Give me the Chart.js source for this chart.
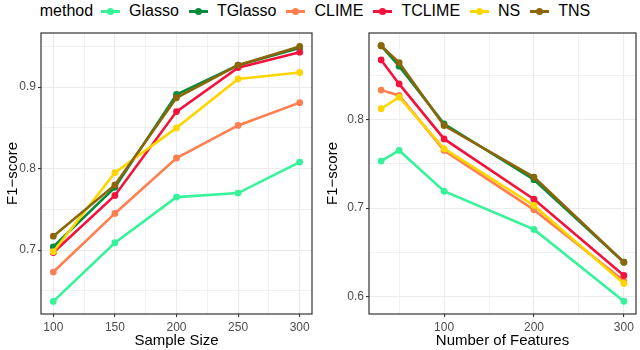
<!DOCTYPE html>
<html>
<head>
<meta charset="utf-8">
<script src="https://cdn.jsdelivr.net/npm/chart.js@4.4.0/dist/chart.umd.min.js"></script>
<style>
    body { margin: 0; background: #fff; width: 640px; height: 350px; position: relative; overflow: hidden; font-family: "Liberation Sans", Arial, sans-serif; }
    #legend { position: absolute; left: 0; top: 0; width: 640px; height: 22px; display: flex; justify-content: center; align-items: center; font-size: 16px; color: #000; }
    #legend .sym { position: relative; width: 19px; height: 3px; margin-right: 9px; }
    #legend .sym i { position: absolute; left: 6px; top: -2px; width: 7px; height: 7px; border-radius: 50%; }
    #legend .lab { margin-right: 10px; }
    .panel { position: absolute; top: 22px; width: 320px; height: 328px; }
</style>
</head>
<body>
<div id="legend"><span class="lab" style="margin-right:8px">method</span></div>
<div class="panel" style="left:0"><canvas id="leftChart" width="320" height="328"></canvas></div>
<div class="panel" style="left:320px"><canvas id="rightChart" width="320" height="328"></canvas></div>
<script>
// methods and colours
const methods = ['Glasso', 'TGlasso', 'CLIME', 'TCLIME', 'NS', 'TNS'];
const colors = ['#36F39A', '#0A8B3C', '#FF7F50', '#F4123C', '#FFD500', '#8B6508'];

// left panel: F1 vs sample size
const sampleSizes = [100, 150, 200, 250, 300];
const sizeGlasso  = [0.637, 0.709, 0.765, 0.770, 0.808];
const sizeTGlasso = [0.704, 0.777, 0.891, 0.927, 0.948];
const sizeCLIME   = [0.673, 0.745, 0.813, 0.853, 0.881];
const sizeTCLIME  = [0.697, 0.767, 0.870, 0.924, 0.943];
const sizeNS      = [0.698, 0.795, 0.850, 0.910, 0.918];
const sizeTNS     = [0.717, 0.780, 0.887, 0.927, 0.950];

// right panel: F1 vs number of features
const featureCounts = [30, 50, 100, 200, 300];
const featGlasso  = [0.753, 0.765, 0.719, 0.676, 0.595];
const featTGlasso = [0.883, 0.860, 0.795, 0.732, 0.639];
const featCLIME   = [0.833, 0.827, 0.765, 0.698, 0.618];
const featTCLIME  = [0.867, 0.840, 0.778, 0.710, 0.624];
const featNS      = [0.812, 0.825, 0.767, 0.703, 0.615];
const featTNS     = [0.883, 0.864, 0.793, 0.735, 0.639];

// grid values (major + minor) and which of them get a label
const sizeGrid = [100, 125, 150, 175, 200, 225, 250, 275, 300];
const sizeLabels = [100, 150, 200, 250, 300];
const sizeYGrid = [0.65, 0.7, 0.75, 0.8, 0.85, 0.9, 0.95];
const sizeYLabels = [0.7, 0.8, 0.9];
const featGrid = [50, 100, 150, 200, 250, 300];
const featLabels = [100, 200, 300];
const featYGrid = [0.6, 0.65, 0.7, 0.75, 0.8, 0.85];
const featYLabels = [0.6, 0.7, 0.8];

// legend
const legendEl = document.getElementById('legend');
methods.forEach((m, i) => {
    const sym = document.createElement('span');
    sym.className = 'sym';
    sym.style.background = colors[i];
    sym.innerHTML = '<i style="background:' + colors[i] + '"></i>';
    const lab = document.createElement('span');
    lab.className = 'lab';
    lab.textContent = m;
    legendEl.appendChild(sym);
    legendEl.appendChild(lab);
});

const panelBorder = {
    id: 'panelBorder',
    afterDraw(chart) {
        const a = chart.chartArea;
        const ctx = chart.ctx;
        ctx.save();
        ctx.strokeStyle = '#333333';
        ctx.lineWidth = 1.2;
        ctx.strokeRect(a.left, a.top, a.right - a.left, a.bottom - a.top);
        ctx.restore();
    }
};

function axis(grid, labels, min, max, title, fitSize, isX, fmt) {
    return {
        type: 'linear',
        min: min,
        max: max,
        afterBuildTicks: scale => { scale.ticks = grid.map(v => ({ value: v })); },
        afterFit: scale => { if (isX) scale.height = fitSize; else scale.width = fitSize; },
        border: { display: false },
        grid: {
            color: '#EBEBEB',
            lineWidth: ctx => labels.includes(ctx.tick && ctx.tick.value) ? 1.1 : 0.7,
            tickColor: ctx => labels.includes(ctx.tick && ctx.tick.value) ? '#333333' : 'rgba(0,0,0,0)',
            tickLength: 3,
            tickWidth: 1.1
        },
        ticks: {
            autoSkip: false,
            maxRotation: 0,
            padding: isX ? 3 : 2,
            color: '#4D4D4D',
            font: { family: 'Liberation Sans', size: 12 },
            callback: v => labels.includes(v) ? fmt(v) : ''
        },
        title: {
            display: true,
            text: title,
            color: '#000',
            font: { family: 'Liberation Sans', size: 15 },
            padding: isX ? { top: 0, bottom: 0 } : { top: 4, bottom: 4 }
        }
    };
}

function makePanel(id, xs, series, xAxis, yAxis, padRight) {
    new Chart(document.getElementById(id), {
        type: 'line',
        data: {
            datasets: series.map((vals, i) => ({
                label: methods[i],
                data: xs.map((x, j) => ({ x: x, y: vals[j] })),
                borderColor: colors[i],
                backgroundColor: colors[i],
                borderWidth: 2.6,
                pointRadius: 3.4,
                pointBorderWidth: 0,
                pointBackgroundColor: colors[i],
                tension: 0,
                order: methods.length - i
            }))
        },
        options: {
            responsive: false,
            animation: false,
            layout: { padding: { top: 11, right: padRight, left: 0, bottom: 0 } },
            plugins: { legend: { display: false }, tooltip: { enabled: false } },
            scales: { x: xAxis, y: yAxis }
        },
        plugins: [panelBorder]
    });
}

makePanel('leftChart', sampleSizes,
    [sizeGlasso, sizeTGlasso, sizeCLIME, sizeTCLIME, sizeNS, sizeTNS],
    axis(sizeGrid, sizeLabels, 90, 310, 'Sample Size', 36, true, v => String(v)),
    axis(sizeYGrid, sizeYLabels, 0.6215, 0.9665, 'F1\u2212score', 41, false, v => v.toFixed(1)),
    8);

makePanel('rightChart', featureCounts,
    [featGlasso, featTGlasso, featCLIME, featTCLIME, featNS, featTNS],
    axis(featGrid, featLabels, 16.5, 313.5, 'Number of Features', 36, true, v => String(v)),
    axis(featYGrid, featYLabels, 0.5806, 0.8974, 'F1\u2212score', 49, false, v => v.toFixed(1)),
    3);
</script>
</body>
</html>
